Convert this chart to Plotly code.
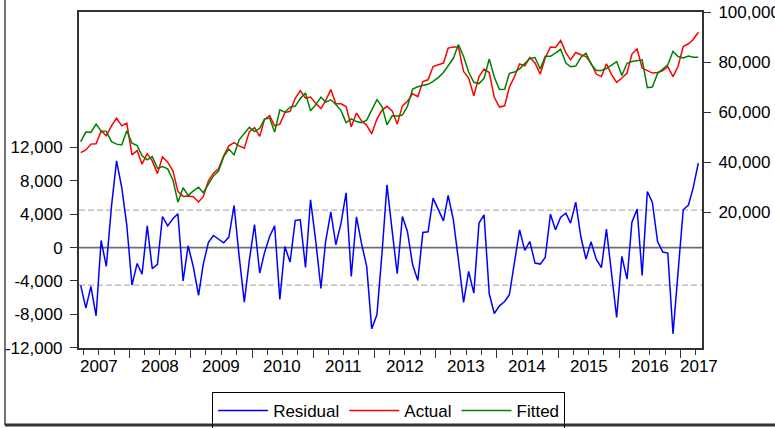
import plotly.graph_objects as go
import pandas as pd

# ---------------- data (monthly, 2007M03 - 2017M04) ----------------
start_month = "2007-03"

actual = [
    43800, 44900, 47200, 47300, 52500, 50500, 54500, 57600, 54500, 55600,
    42900, 44600, 39200, 43400, 40500, 35400, 42100, 40000, 36500, 28300,
    26300, 26500, 26200, 24100, 26200, 32500, 35600, 37400, 42500, 46500,
    47800, 46500, 45600, 52200, 53800, 50300, 57000, 58600, 54500, 55200,
    59800, 60300, 65500, 68600, 65600, 66000, 63500, 61400, 64600, 69000,
    63300, 63300, 62200, 54100, 59600, 56500, 54700, 51300, 57200, 60800,
    62300, 60500, 55200, 62500, 64300, 67300, 66200, 72200, 72900, 78200,
    78900, 79600, 85600, 86000, 86000, 76200, 73600, 66500, 74200, 77200,
    75800, 65900, 62000, 62500, 70000, 74200, 79200, 78500, 81800, 79600,
    75200, 81600, 86000, 85800, 88600, 83800, 80900, 83800, 82900, 82200,
    79600, 75200, 74200, 79300, 74900, 71900, 73600, 75600, 83200, 85200,
    77600, 76500, 75600, 75800, 76600, 78200, 74200, 78200, 86200, 87300,
    88900, 91900,
]

fitted = [
    48200, 52000, 51900, 55200, 52400, 52300, 48200, 47200, 46900, 52500,
    47600, 46600, 42500, 40900, 42200, 37500, 38200, 37300, 32900, 24000,
    29800, 26600, 28500, 30000, 27800, 31500, 34500, 36500, 42200, 45200,
    42900, 48900, 51600, 53900, 52200, 53500, 57200, 57600, 52000, 60900,
    60000, 62000, 62400, 65400, 67600, 60500, 62900, 66000, 64000, 64900,
    63000, 60600, 55800, 57300, 56200, 55800, 56800, 60800, 65000, 62100,
    54900, 58500, 58400, 58800, 62300, 69200, 70100, 70600, 71100, 72300,
    73800, 75800, 78500, 81500, 87000, 82200, 76000, 71900, 71400, 73500,
    81200, 74000, 69000, 69100, 75500, 76000, 77300, 79400, 81400, 81800,
    77200, 82300, 82300, 83600, 85100, 79600, 78100, 78400, 81800, 83500,
    79200, 76600, 76600, 77400, 79000, 80200, 74600, 79500, 80200, 80600,
    80900, 69800, 70000, 75400, 77000, 78900, 84300, 82200, 81600, 82400,
    81900, 81900,
]

residual = [
    -4540, -7260, -4660, -8180, 850, -2260, 5000, 10400, 7200, 2700,
    -4500, -1900, -3200, 2600, -2540, -2000, 3730, 2600, 3450, 4050,
    -4000, 220, -2300, -5740, -2000, 620, 1450, 1010, 580, 1260,
    5050, -1000, -6540, -1500, 2770, -3060, -660, 1330, 2610, -6220,
    130, -1740, 3250, 3330, -2380, 5730, 800, -4900, 730, 4290,
    340, 2930, 6570, -3460, 3690, 500, -2260, -9740, -8060, -500,
    7530, 2000, -3140, 3730, 1930, -2060, -3940, 1810, 1890, 5930,
    4530, 3210, 6250, 3330, -1460, -6580, -2860, -5460, 2940, 3930,
    -5540, -7900, -6980, -6460, -5660, -1860, 2130, -340, 730, -1860,
    -1980, -1180, 4010, 2130, 3650, 4130, 2930, 5450, 1330, -1380,
    690, -1380, -2400, 2210, -3300, -8380, -1060, -3780, 3050, 4610,
    -3340, 6730, 5410, 730, -540, -660, -10340, -3300, 4530, 5090,
    7130, 10130,
]

se_band = 4500  # +/- one standard error of the regression

left_tickvals = [-12000, -8000, -4000, 0, 4000, 8000, 12000]
left_ticktext = ["-12,000", "-8,000", "-4,000", "0", "4,000", "8,000", "12,000"]
right_tickvals = [20000, 40000, 60000, 80000, 100000]
right_ticktext = ["20,000", "40,000", "60,000", "80,000", "100,000"]
year_labels = ["2007", "2008", "2009", "2010", "2011", "2012",
               "2013", "2014", "2015", "2016", "2017"]
series_names = ["Residual", "Actual", "Fitted"]

# ---------------- figure ----------------
dates = pd.date_range(start_month + "-01", periods=len(actual), freq="MS") + pd.Timedelta(days=15)
x_start = dates[0] - pd.Timedelta(days=10)
x_end = dates[-1] + pd.Timedelta(days=22)

FONT = "Liberation Sans, Arial, sans-serif"
fig = go.Figure()

fig.add_trace(go.Scatter(x=dates, y=residual, name=series_names[0], mode="lines",
                         line=dict(color="#0000ff", width=1.5), yaxis="y"))
fig.add_trace(go.Scatter(x=dates, y=actual, name=series_names[1], mode="lines",
                         line=dict(color="#ff0000", width=1.5), yaxis="y2"))
fig.add_trace(go.Scatter(x=dates, y=fitted, name=series_names[2], mode="lines",
                         line=dict(color="#008000", width=1.5), yaxis="y2"))

shapes = [
    dict(type="line", xref="paper", yref="y", x0=0, x1=1, y0=0, y1=0,
         line=dict(color="#6e6e6e", width=1.8), layer="below"),
    dict(type="line", xref="paper", yref="y", x0=0, x1=1, y0=se_band, y1=se_band,
         line=dict(color="#b4b4b4", width=1.2, dash="6px,3px"), layer="below"),
    dict(type="line", xref="paper", yref="y", x0=0, x1=1, y0=-se_band, y1=-se_band,
         line=dict(color="#b4b4b4", width=1.2, dash="6px,3px"), layer="below"),
    # outer graph frame (left and bottom edges visible)
    dict(type="line", xref="paper", yref="paper", x0=-0.1188, x1=-0.1188, y0=-0.2292, y1=1.05,
         line=dict(color="#444444", width=1.5)),
    dict(type="line", xref="paper", yref="paper", x0=-0.1188, x1=1.2, y0=-0.2292, y1=-0.2292,
         line=dict(color="#333333", width=3)),
]

annotations = []
for yr in year_labels:
    pos = pd.Timestamp(f"{yr}-07-01")
    if pos > dates[-1]:
        pos = dates[-1] + pd.Timedelta(days=7)
    annotations.append(dict(x=pos, y=-0.054, xref="x", yref="paper", text=yr,
                            showarrow=False, xanchor="center", yanchor="middle",
                            font=dict(family=FONT, size=17, color="#000000")))

fig.update_layout(
    width=775, height=428,
    margin=dict(l=79, r=73, t=12, b=80, autoexpand=False),
    paper_bgcolor="white", plot_bgcolor="white",
    font=dict(family=FONT, size=17, color="#000000"),
    showlegend=True,
    legend=dict(orientation="h", x=0.497, xanchor="center", y=-0.131, yanchor="top",
                bordercolor="#000000", borderwidth=1, bgcolor="rgba(255,255,255,0)",
                font=dict(family=FONT, size=17), itemwidth=50,
                traceorder="normal"),
    xaxis=dict(type="date", range=[x_start, x_end], showgrid=False, zeroline=False,
               showline=True, linecolor="#333333", linewidth=2, mirror=True,
               ticks="outside", ticklen=8, tickcolor="#333333", tickwidth=1,
               tick0="2007-01-01", dtick="M12", showticklabels=False, automargin=False,
               minor=dict(ticks="outside", ticklen=5, tickcolor="#333333",
                          dtick="M3", tick0="2007-01-01", showgrid=False)),
    yaxis=dict(range=[-12040, 28250], tickvals=left_tickvals, ticktext=left_ticktext,
               showgrid=False, zeroline=False, showline=True, linecolor="#333333",
               linewidth=2, mirror=True, ticks="outside", ticklen=7, automargin=False,
               tickcolor="#333333", ticklabelstandoff=4),
    yaxis2=dict(range=[-34280, 100000], tickvals=right_tickvals, ticktext=right_ticktext,
                overlaying="y", side="right", showgrid=False, zeroline=False,
                showline=True, linecolor="#333333", linewidth=2, automargin=False,
                ticks="outside", ticklen=7, tickcolor="#333333", ticklabelstandoff=4),
    shapes=shapes,
    annotations=annotations,
)

fig.write_html("out.html", config={"displayModeBar": False},
               post_script="document.body.style.margin='0';document.body.style.overflow='hidden';")
